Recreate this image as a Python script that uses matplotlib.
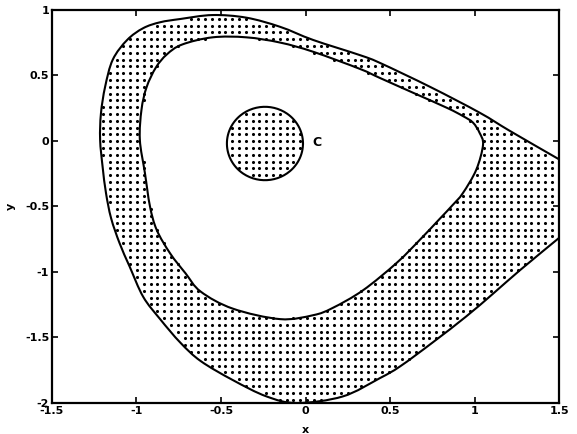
import numpy as np
import matplotlib
matplotlib.use("Agg")
import matplotlib.pyplot as plt
from matplotlib.path import Path
from matplotlib.patches import PathPatch

# Outer boundary of the stippled band: upper branch enters from the right
# edge, runs across the top, down the left side, along the bottom, and
# leaves through the right edge again.
outer_x = [1.50, 1.21, 1.03, 0.74, 0.44, 0.32, 0.045, -0.15, -0.35, -0.55,
           -0.74, -0.86, -0.96, -1.055, -1.14, -1.185, -1.21, -1.215, -1.20,
           -1.18, -1.15, -1.10, -1.04, -0.96, -0.86, -0.74, -0.62, -0.43,
           -0.23, -0.05, 0.22, 0.44, 0.56, 0.75, 0.95, 1.11, 1.27, 1.50]
outer_y = [-0.141, 0.075, 0.215, 0.41, 0.595, 0.655, 0.77, 0.87, 0.94, 0.96,
           0.93, 0.905, 0.86, 0.77, 0.62, 0.415, 0.21, 0.01, -0.20,
           -0.40, -0.59, -0.78, -0.96, -1.19, -1.36, -1.54, -1.68, -1.825,
           -1.95, -2.00, -1.95, -1.81, -1.72, -1.54, -1.34, -1.165,
           -0.985, -0.74]

# Inner closed curve bounding the unshaded region
inner_x = [-0.98, -0.97, -0.94, -0.885, -0.82, -0.73, -0.55, -0.35, -0.15,
           0.045, 0.32, 0.44, 0.64, 0.84, 0.93, 0.99, 1.03, 1.05, 1.01,
           0.93, 0.87, 0.79, 0.68, 0.54, 0.34, 0.16, 0.045, -0.15, -0.43,
           -0.62, -0.71, -0.80, -0.88, -0.92, -0.95]
inner_y = [0.01, 0.24, 0.41, 0.56, 0.66, 0.735, 0.79, 0.79, 0.75,
           0.68, 0.55, 0.48, 0.365, 0.25, 0.19, 0.14, 0.06, -0.03, -0.22,
           -0.40, -0.49, -0.60, -0.75, -0.93, -1.14, -1.275, -1.33, -1.36,
           -1.28, -1.15, -1.01, -0.86, -0.68, -0.50, -0.245]

# Small region C
disk_center = (-0.24, -0.02)
disk_radii = (0.225, 0.28)
label_c = ("C", 0.07, -0.01)

xticks = [-1.5, -1, -0.5, 0, 0.5, 1, 1.5]
yticks = [-2, -1.5, -1, -0.5, 0, 0.5, 1]


def smooth_path(xs, ys, closed=False):
    """Cubic Bezier path through the given points (Catmull-Rom tangents)."""
    p = np.column_stack([xs, ys]).astype(float)
    n = len(p)
    if closed:
        idx = lambda i: p[i % n]
        segs = range(n)
    else:
        idx = lambda i: p[min(max(i, 0), n - 1)]
        segs = range(n - 1)
    verts = [p[0]]
    codes = [Path.MOVETO]
    for i in segs:
        p0, p1, p2, p3 = idx(i - 1), idx(i), idx(i + 1), idx(i + 2)
        c1 = p1 + (p2 - p0) / 6.0
        c2 = p2 - (p3 - p1) / 6.0
        verts += [c1, c2, p2]
        codes += [Path.CURVE4] * 3
    return Path(np.array(verts), codes)


fig = plt.figure(figsize=(5.77, 4.34), dpi=100)
ax = fig.add_axes([0.090, 0.0714, 0.879, 0.906])
ax.set_xlim(-1.5, 1.5)
ax.set_ylim(-2, 1)

lw = 1.5
outer_path = smooth_path(outer_x, outer_y)
inner_path = smooth_path(inner_x, inner_y, closed=True)
t = np.linspace(0, 2 * np.pi, 200)
ex = disk_center[0] + disk_radii[0] * np.cos(t)
ey = disk_center[1] + disk_radii[1] * np.sin(t)

for pth in (outer_path, inner_path):
    ax.add_patch(PathPatch(pth, facecolor="none", edgecolor="black", lw=lw,
                           joinstyle="round", zorder=3))
ax.plot(ex, ey, color="black", lw=lw, zorder=3)

# Stipple: a regular dot grid kept only inside the shaded regions
bbox = ax.get_position()
W = bbox.width * fig.get_figwidth() * fig.dpi
H = bbox.height * fig.get_figheight() * fig.dpi
pitch = 6.8
dx = pitch * 3.0 / W
dy = pitch * 3.0 / H
gx, gy = np.meshgrid(np.arange(-1.5 + dx / 2, 1.5, dx),
                     np.arange(-2 + dy / 2, 1.0, dy))
pts = np.column_stack([gx.ravel(), gy.ravel()])

outer_poly = Path(outer_path.to_polygons(closed_only=False)[0])
inner_poly = Path(inner_path.to_polygons(closed_only=False)[0])
disk_poly = Path(np.column_stack([ex, ey]))
margin = 0.012
in_band = (outer_poly.contains_points(pts, radius=-margin)
           & ~inner_poly.contains_points(pts, radius=margin))
in_disk = disk_poly.contains_points(pts, radius=-margin)
sel = pts[in_band | in_disk]
ax.scatter(sel[:, 0], sel[:, 1], s=5.0, marker="o", color="black",
           linewidths=0, zorder=2)

ax.text(label_c[1], label_c[2], label_c[0], fontsize=9, fontweight="bold",
        ha="center", va="center")

ax.set_xticks(xticks)
ax.set_yticks(yticks)
ax.set_xticklabels([f"{v:g}" for v in xticks], fontsize=8, fontweight="bold")
ax.set_yticklabels([f"{v:g}" for v in yticks], fontsize=8, fontweight="bold")
ax.tick_params(direction="in", length=4, width=1.2, top=True, right=True,
               pad=2)
for s in ax.spines.values():
    s.set_linewidth(1.6)

ax.set_xlabel("x", fontsize=8, fontweight="bold")
ax.xaxis.set_label_coords(0.5, -0.055)
ax.set_ylabel("y", fontsize=8, fontweight="bold")
ax.yaxis.set_label_coords(-0.072, 0.5)

fig.savefig("out.png", dpi=100, facecolor="white")
